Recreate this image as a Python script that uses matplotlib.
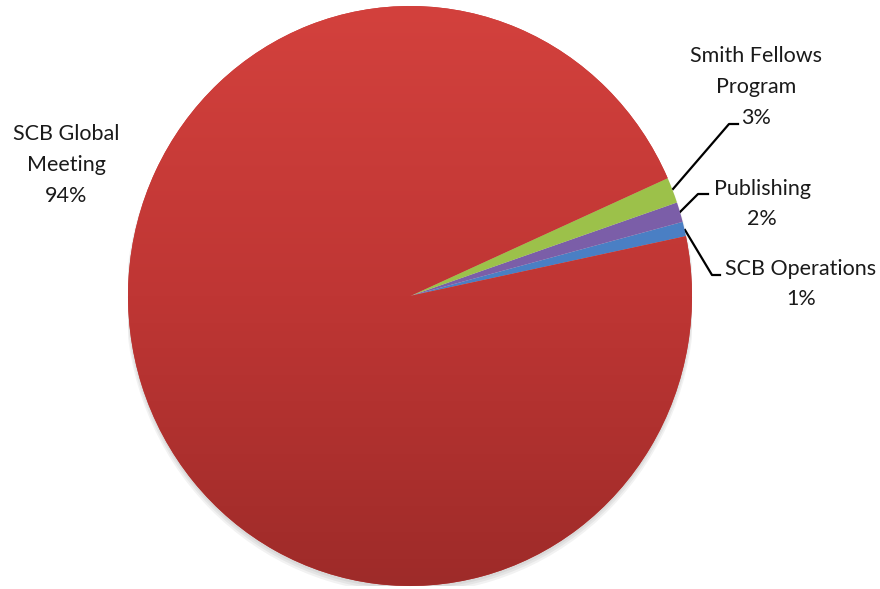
import numpy as np
import matplotlib.pyplot as plt
from matplotlib.colors import LinearSegmentedColormap

# slice shares as drawn (counterclockwise from the blue slice)
categories = ['SCB Operations', 'Publishing', 'Smith Fellows Program', 'SCB Global Meeting']
shares = [0.81, 1.11, 1.44, 96.64]
pct_labels = ['1%', '2%', '3%', '94%']
colors = ['#4a7fc4', '#7b5ea8', '#9cc14a', '#c93a37']

plt.rcParams['font.family'] = ['Lato', 'DejaVu Sans']

fig = plt.figure(figsize=(8.8, 5.89), dpi=100)

# overlay axes in pixel coordinates for labels and leader lines
top = fig.add_axes([0, 0, 1, 1])
top.set_xlim(0, 880)
top.set_ylim(589, 0)
top.axis('off')

# pie axes fitted to the ellipse box of the pie
cx, cy, rx, ry = 410, 296, 282, 290
pax = fig.add_axes([(cx - rx) / 880, (589 - cy - ry) / 589, 2 * rx / 880, 2 * ry / 589])

# soft shadow under the pie
for k in range(3):
    sh = plt.Circle((0, -0.01 - k * 0.004), 1.0 + k * 0.004, color='black', alpha=0.05, lw=0)
    pax.add_patch(sh)

wedges, _ = pax.pie(shares, colors=colors, startangle=11.9, radius=1.0,
                    wedgeprops=dict(linewidth=0), center=(0, 0), frame=True)
pax.set_xlim(-1, 1)
pax.set_ylim(-1, 1)
pax.set_aspect('auto')
pax.axis('off')

# vertical gradient on the big slice
red_cmap = LinearSegmentedColormap.from_list('r', ['#9e2b29', '#bf3634', '#d3413d'])
grad = np.linspace(0, 1, 256).reshape(-1, 1)
img = pax.imshow(grad, extent=(-1, 1, -1, 1), origin='lower', cmap=red_cmap,
                 aspect='auto', zorder=wedges[3].get_zorder() + 0.1)
img.set_clip_path(wedges[3])

lc = 'black'
# leader lines
top.plot([673, 729, 738], [189, 124, 124], color=lc, lw=1.6)
top.plot([680, 698, 708], [212, 194, 194], color=lc, lw=1.6)
top.plot([685, 712, 720], [230, 275, 275], color=lc, lw=1.6)

fs = 15.5
tc = '#1a1a1a'
ls = 1.68
top.text(756, 87, categories[2].replace(' Program', '\nProgram') + '\n' + pct_labels[2],
         ha='center', va='center', fontsize=fs, color=tc, linespacing=ls)
top.text(762, 204, categories[1] + '\n' + pct_labels[1],
         ha='center', va='center', fontsize=fs, color=tc, linespacing=ls)
top.text(801, 284, categories[0] + '\n' + pct_labels[0],
         ha='center', va='center', fontsize=fs, color=tc, linespacing=ls)
top.text(66, 165, categories[3].replace(' Meeting', '\nMeeting') + '\n' + pct_labels[3],
         ha='center', va='center', fontsize=fs, color=tc, linespacing=ls)

fig.savefig('out.png', dpi=100)
